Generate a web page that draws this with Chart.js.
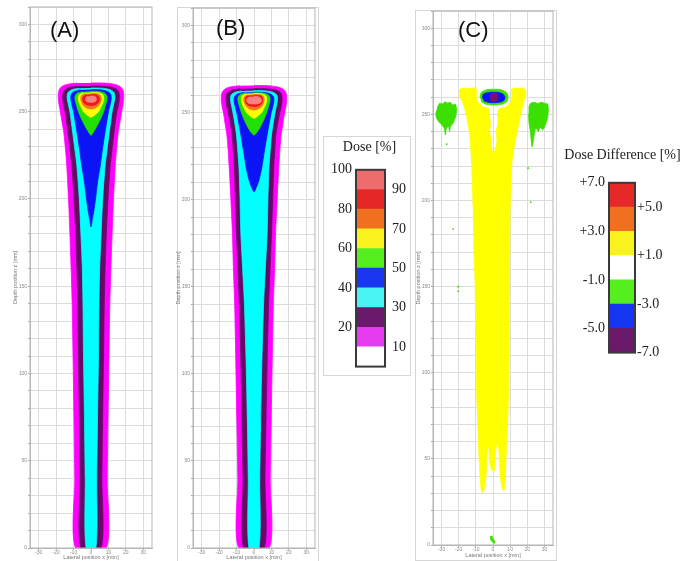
<!DOCTYPE html>
<html>
<head>
<meta charset="utf-8">
<script src="https://cdn.jsdelivr.net/npm/chart.js@4.4.1/dist/chart.umd.min.js"></script>
<style>
body{margin:0;background:#fff}
#fig{position:relative;width:680px;height:561px;overflow:hidden;background:#fff}
#fig canvas,#fig .box,#fig .tag{position:absolute}
.box{border:1px solid #d6d6d6;box-sizing:border-box}
.tag{font:22px 'Liberation Sans',Arial,sans-serif;color:#111;line-height:26px}
</style>
</head>
<body>
<div id="fig">
  <div class="box" style="left:177px;top:7px;width:142px;height:560px"></div>
  <div class="box" style="left:415px;top:10px;width:142px;height:551px"></div>
  <div class="box" style="left:323px;top:136px;width:88px;height:240px"></div>
  <canvas id="pA" width="160" height="561" style="left:0;top:0"></canvas>
  <canvas id="pB" width="160" height="561" style="left:163px;top:0"></canvas>
  <canvas id="pC" width="160" height="559" style="left:403px;top:0"></canvas>
  <canvas id="barDose" width="87" height="246" style="left:323px;top:136px"></canvas>
  <canvas id="barDiff" width="127" height="225" style="left:556px;top:140px"></canvas>
  <div class="tag" style="left:50px;top:17px">(A)</div>
  <div class="tag" style="left:216px;top:15px">(B)</div>
  <div class="tag" style="left:458px;top:17px">(C)</div>
</div>
<script>
// axis ticks
const xTicks=[-30,-20,-10,0,10,20,30];
const yLabelTicks=[0,50,100,150,200,250,300];

// isodose profiles: [half width x (mm), depth z (mm)], top centre -> down the right side
const aLight=[[0,259],[1.8,258.9],[2.9,258.2],[3.1,257],[2.7,256],[1.6,255.5],[0,255.3]];
const aRed=[[0,259.9],[3,259.7],[4.4,258.8],[4.8,257.2],[4.3,255.4],[3,254.2],[1.5,253.7],[0,253.5]];
const aOrange=[[0,260.5],[3.8,260.3],[5.4,259.3],[5.9,257.5],[5.4,255.3],[4.1,253.2],[2.2,252],[0,251.5]];
const aYellow=[[0,261],[4.5,260.8],[6.7,259.8],[7.3,257.8],[6.9,255.5],[5.6,252.5],[4.3,250],[2.4,248.3],[0,246.8]];
const aGreen=[[0,261.7],[5,261.5],[8,260.6],[9.2,258.8],[9.1,256.5],[8.2,253.3],[7.2,250],[5.5,246],[3.5,242],[1.8,239],[0,236.5]];
const aBlue=[[0,262.7],[6,262.5],[9.5,261.6],[11.3,260],[11.6,257.5],[11.1,254.5],[10,250],[8,238],[6.5,228],[5.3,219],[3.8,210],[2.6,200],[1.6,193],[0.7,188],[0,184]];
const aCyan=[[0,263.6],[7,263.4],[11,262.6],[13.2,261],[13.7,258.5],[13.4,256],[12.1,250],[10.5,238],[9.2,228],[8.1,219],[6.7,200],[5.8,180],[5,161],[4.6,140],[4.3,110],[3.8,77],[3.3,40],[2.8,0]];
const aPurple=[[0,264.8],[8,264.6],[12.5,263.9],[15.2,262.4],[16.2,260],[16.2,257],[15.6,253],[14.8,250],[13.2,238],[12,228],[11,219],[9.75,200],[8.8,180],[8.1,161],[7.6,140],[7.2,110],[6.7,77],[6.2,40],[5.8,0]];
const aMagenta=[[0,266.5],[8,266.4],[13,265.8],[16.5,264.6],[18.3,262.5],[18.8,259],[18.5,255],[17.6,250],[16.6,244],[15.6,238],[14.6,228],[13.9,219],[12.9,200],[12.1,180],[11.4,160],[10.8,140],[10.3,110],[9.8,77],[9.3,40],[8.8,0]];

const bLight=[[0,259.2],[2.6,259],[4,258],[4.2,256.6],[3.5,255.5],[1.8,255],[0,254.9]];
const bRed=[[0,259.9],[3.4,259.7],[4.7,258.8],[5,257.2],[4.5,255.3],[3.1,254],[1.5,253.6],[0,253.4]];
const bOrange=[[0,260.4],[3.8,260.2],[5.4,259.2],[5.9,257.4],[5.4,255.2],[4.1,253.1],[2.2,251.9],[0,251.4]];
const bYellow=[[0,260.9],[4.5,260.7],[6.7,259.7],[7.3,257.7],[6.9,255.4],[5.6,252.4],[4.3,249.9],[2.4,248.2],[0,246.7]];
const bGreen=[[0,261.4],[5,261.2],[8,260.3],[9.2,258.5],[9.1,256.2],[8.2,253],[7.2,249.8],[5.5,245.5],[3.5,241.5],[1.8,238.8],[0,237]];
const bBlue=[[0,261.7],[6,261.5],[9.5,260.6],[11.2,259],[11.4,256.5],[10.8,253.5],[9.7,249],[7.6,237.6],[6,228],[4.4,218],[2.8,211],[1.3,207],[0,204.4]];
const bCyan=[[0,262.6],[7,262.4],[11,261.6],[13.1,260],[13.5,257.5],[13.1,255],[11.9,249],[10.1,237.6],[9.3,228],[8.6,218],[8,200],[7.6,182],[6.5,160],[5.5,140],[4.6,110],[3.8,73],[3.3,40],[2.9,0]];
const bPurple=[[0,263.8],[8,263.6],[12.5,262.9],[15.2,261.4],[16.1,259],[16,256],[15.3,252],[14.4,248],[12.6,237.6],[11.9,228],[11.3,218],[10.7,200],[10.1,182],[9.2,160],[8.4,140],[7.6,110],[6.9,73],[6.3,40],[5.9,0]];
const bMagenta=[[0,265.5],[8,265.4],[13,264.8],[16.5,263.6],[18.3,261.5],[18.8,258],[18.4,254],[17.4,249],[16.5,243],[15.6,237.6],[14.8,228],[14.2,218],[13.5,205],[12.9,192],[12.4,182],[11.8,160],[11.1,140],[10.5,110],[9.85,73],[9.3,40],[8.8,0]];

// dose difference map (C): outlines as [x, z]
const cYellow=[[-19.7,262.5],[-19.3,264.6],[-17,265.3],[-14,264.9],[-11,265.4],
  [-9.5,264.5],[-9.8,261],[-9,257.5],[-6,254.5],[-2.5,253.3],[-2,249],[-1.5,245],[-2,240],[-1,235],[-0.8,230],[0.2,227.5],[1.5,230],[2.3,235],[1.8,240],[2.9,245],[2.6,250],[3.5,253.3],[7.5,254.3],[10,256.5],[11,260],[10.9,264.5],
  [12.5,265.3],[14,265],[17,265.3],[19,264.2],[19.1,261],
  [17.8,257],[16.8,252.5],[15.5,247],[13.9,239],[12.3,231],[11,222],[10.6,210],[9.9,193],[9.7,170],[9.6,154],[9.4,115],[9,86],[8.5,70],[8.1,63],
  [7.8,57],[7.6,50],[7.3,42],[7,36],[6.4,31.5],[5.5,32.5],[4.5,38],[3.8,46],[3.4,55],[2.8,59],
  [1.5,55],[1.2,48],[0.5,42.5],[-1,44],[-2,50],[-2.3,55],[-2.8,57],
  [-3.6,52],[-3.8,44],[-4.5,36],[-5.5,31],[-6.5,30.5],[-7.2,35],[-7.8,44],[-8.2,52],[-8.6,63],
  [-9,75],[-9.5,86],[-9.9,115],[-10.5,154],[-11.1,170],[-11.5,193],[-12.5,222],[-13.5,237.7],[-15.4,248.6],[-17.3,256],[-19.7,261]];
const cGreenL=[[-32.5,254],[-31,256.5],[-29.5,256],[-28,257.3],[-26.5,256.5],[-25,257],[-23.5,255.5],[-22,256],[-21.2,253],[-21.5,250],[-22.3,247],[-23.5,244.5],[-24.8,243],[-25.3,240],[-26,243],[-27.3,241.5],[-27.8,238],[-28.5,242],[-30,244],[-31.5,245.5],[-33,248],[-33.4,251]];
const cGreenR=[[20.8,254],[22,256.5],[24,257],[26,256.3],[28,257],[30,256.5],[31.8,256],[32.3,253],[32,249],[31.2,245.5],[30.2,243],[29,241],[27.5,242.5],[26.5,240],[25,242],[24,238],[23.3,233],[22.8,231],[22.3,235],[21.8,240],[21,245],[20.7,250]];
const cGreenC=[[-7.6,260],[-6.8,262.8],[-4,264.2],[0.5,264.6],[5,264.2],[8,262.5],[8.8,260],[8,257.3],[5,255.8],[0.5,255.4],[-4,255.8],[-6.9,257.5]];
const cBlueC=[[-6.3,259.8],[-5.5,261.8],[-2.5,262.7],[2,262.8],[5.5,262],[7,260],[6,257.8],[2.5,256.9],[-2,256.9],[-5.3,257.8]];
const cPurpleC=[[-1.8,259.8],[-1.2,261.8],[0.6,262.4],[2.5,261.8],[2.9,259.8],[2.2,257.8],[0.5,257.3],[-1.2,257.8]];
const cGreenBottom=[[-1.8,4.8],[-0.6,5.2],[0.2,3.4],[1.3,1.8],[0.6,0.9],[-0.7,2.2],[-1.5,3.2]];
const cGreenDots=[[-27,232.7],[-23.2,183.4],[22,199],[20.5,218.8],[-20.3,150],[-20.3,147.3]];
const cRedMarks=[[-9,254.5],[-9,253],[-9,251.5],[8,254],[8,252.6],[8,251.4]];
const cRedCore=[[0.6,259.8]];
const cWhiteSpecks=[[-0.5,225.5],[1.8,224],[-1.2,221],[0.8,218],[-17.5,258.6],[-15.8,257.8]];

// colour scales
const doseBounds=[0,10,20,30,40,50,60,70,80,90,100];
const doseColors=['#ffffff','#e43cee','#6b1a6b','#4af4f4','#1a36f0','#55ef1f','#f8f21f','#f0701f','#e52626','#ee6c6c'];
const doseLeftTicks=[20,40,60,80,100];
const doseRightTicks=[10,30,50,70,90];
const diffBounds=[-7,-5,-3,-1,1,3,5,7];
const diffColors=['#6b1a6b','#1535f0','#55ef1f','#ffffff','#f8f21f','#f0701f','#e52828'];
const diffLeftTicks=[-5,-1,3,7];
const diffRightTicks=[-7,-3,1,5];
const plotColors=['#f98282','#f01818','#f5781e','#ffff00','#22e000','#0a14f5','#00ffff','#660a66','#ff00ff'];

Chart.defaults.font.family="'Liberation Sans', Arial, sans-serif";

const frame={
  id:'frame',
  afterDatasetsDraw(c,a,o){
    const {left,top,width,height}=c.chartArea;
    const ctx=c.ctx;
    ctx.save();
    ctx.strokeStyle=o.color;ctx.lineWidth=o.width;
    ctx.strokeRect(left,top,width,height);
    ctx.restore();
  }
};

const toPts=(arr)=> arr.map(([x,y])=>({x,y}));

function mirror(prof){
  const right=prof.map(([h,z])=>({x:h,y:z}));
  const left=prof.slice().reverse().filter(([h])=>h>0).map(([h,z])=>({x:-h,y:z}));
  return right.concat(left);
}

function shape(pts,color,tension){
  return {data:pts,showLine:true,fill:'shape',backgroundColor:color,borderColor:color,borderWidth:0.8,pointRadius:0,tension};
}

function dots(arr,color,r){
  return {data:toPts(arr),showLine:false,pointRadius:r,pointStyle:'rect',backgroundColor:color,borderWidth:0};
}

function panel(id,sets,padTop,padRight,xH){
  const axisFont={size:5};
  return new Chart(document.getElementById(id),{
    type:'scatter',
    data:{datasets:sets},
    options:{
      responsive:false,
      animation:false,
      layout:{padding:{top:padTop,right:padRight,left:0,bottom:0}},
      plugins:{legend:{display:false},tooltip:{enabled:false},frame:{color:'#b5b5b5',width:1}},
      scales:{
        x:{
          min:-35,max:35,
          ticks:{font:axisFont,color:'#8a8a8a',padding:0,autoSkip:false,maxRotation:0},
          afterBuildTicks:(s)=>{ s.ticks=xTicks.map((v)=>({value:v})); },
          afterFit:(s)=>{ s.height=xH; },
          grid:{color:'#dcdcdc',tickLength:2,tickColor:'#aaa'},
          border:{color:'#b5b5b5'},
          title:{display:true,text:'Lateral position x [mm]',font:{size:5.5},color:'#777',padding:0}
        },
        y:{
          min:0,max:310,
          ticks:{stepSize:10,callback:(v)=> yLabelTicks.includes(v)?v:'',font:axisFont,color:'#8a8a8a',padding:1,autoSkip:false},
          afterFit:(s)=>{ s.width=30; },
          grid:{color:'#dcdcdc',tickLength:2,tickColor:'#aaa'},
          border:{color:'#b5b5b5'},
          title:{display:true,text:'Depth position z [mm]',font:{size:5.5},color:'#777',padding:{top:12,bottom:0}}
        }
      }
    },
    plugins:[frame]
  });
}

function contourSets(profiles){
  return profiles.map((p,i)=> shape(mirror(p),plotColors[i],0.25));
}

panel('pA',contourSets([aLight,aRed,aOrange,aYellow,aGreen,aBlue,aCyan,aPurple,aMagenta]),7,8,13);
panel('pB',contourSets([bLight,bRed,bOrange,bYellow,bGreen,bBlue,bCyan,bPurple,bMagenta]),8,8,13);
panel('pC',[
  shape(toPts(cPurpleC),'#7a1070',0.3),
  shape(toPts(cBlueC),'#0a14f5',0.3),
  shape(toPts(cGreenC),'#3be000',0.3),
  shape(toPts(cYellow),'#ffff00',0.15),
  shape(toPts(cGreenL),'#3be000',0.2),
  shape(toPts(cGreenR),'#3be000',0.2),
  shape(toPts(cGreenBottom),'#3be000',0.2),
  dots(cGreenDots,'#3bd000',1.1),
  dots(cRedMarks,'#d2581a',1.1),
  dots(cRedCore,'#c0304a',1.4),
  dots(cWhiteSpecks,'#ffffff',1.1)
],11,10,14);

function colorbar(id,bounds,colors,leftTicks,rightTicks,fmt,title,g){
  const serif={family:"'Liberation Serif', 'Times New Roman', serif",size:14};
  return new Chart(document.getElementById(id),{
    type:'bar',
    data:{
      labels:[''],
      datasets:colors.map((c,i)=>({data:[[bounds[i],bounds[i+1]]],backgroundColor:c,borderWidth:0,grouped:false,barPercentage:1,categoryPercentage:1}))
    },
    options:{
      responsive:false,
      animation:false,
      layout:{padding:{left:g.padL,right:0,top:0,bottom:g.padB}},
      plugins:{
        legend:{display:false},tooltip:{enabled:false},
        title:{display:true,text:title,font:{...serif,weight:'normal'},color:'#222',padding:{top:g.tTop,bottom:g.tBottom}},
        frame:{color:'#3a3a3a',width:2}
      },
      scales:{
        x:{display:false},
        y:{
          position:'left',min:bounds[0],max:bounds[bounds.length-1],
          afterBuildTicks:(s)=>{ s.ticks=leftTicks.map((v)=>({value:v})); },
          afterFit:(s)=>{ s.width=g.leftW; },
          ticks:{callback:fmt,font:serif,color:'#222',padding:4},
          grid:{display:false,drawTicks:false},border:{display:false}
        },
        y2:{
          position:'right',min:bounds[0],max:bounds[bounds.length-1],
          afterBuildTicks:(s)=>{ s.ticks=rightTicks.map((v)=>({value:v})); },
          afterFit:(s)=>{ s.width=g.rightW; },
          ticks:{callback:fmt,font:serif,color:'#222',padding:g.rPad},
          grid:{display:false,drawTicks:false},border:{display:false}
        }
      }
    },
    plugins:[frame]
  });
}

colorbar('barDose',doseBounds,doseColors,doseLeftTicks,doseRightTicks,(v)=> String(v),'Dose [%]',
  {padL:6,padB:9,leftW:27,rightW:25,tTop:3,tBottom:14,rPad:7});
colorbar('barDiff',diffBounds,diffColors,diffLeftTicks,diffRightTicks,(v)=> (v>0?'+':'')+v.toFixed(1),'Dose Difference [%]',
  {padL:6,padB:10,leftW:47,rightW:48,tTop:7,tBottom:19,rPad:2});
</script>
</body>
</html>
